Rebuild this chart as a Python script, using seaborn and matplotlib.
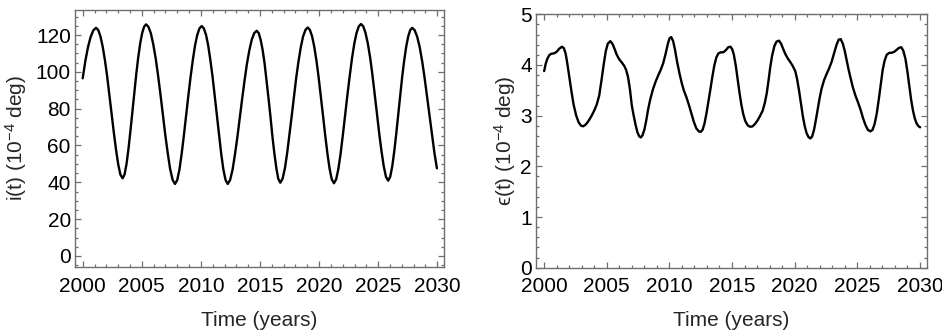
import numpy as np
import pandas as pd
import matplotlib
matplotlib.use("Agg")
import matplotlib.pyplot as plt
from matplotlib.ticker import MultipleLocator
import seaborn as sns

# ---------------- data ----------------
t_incl = [2000.00, 2000.23, 2000.455, 2000.68, 2000.905, 2001.13,
          2001.32, 2001.505, 2001.69, 2001.88, 2002.07, 2002.255, 2002.44, 2002.63, 2002.82, 2003.005, 2003.19, 2003.38,
          2003.545, 2003.71, 2003.875, 2004.04, 2004.205, 2004.37, 2004.535, 2004.70, 2004.865, 2005.03, 2005.195, 2005.36,
          2005.56, 2005.77, 2005.97, 2006.18, 2006.38, 2006.585, 2006.79, 2006.99, 2007.20, 2007.40, 2007.61, 2007.81,
          2008.00, 2008.19, 2008.375, 2008.56, 2008.75, 2008.94, 2009.13, 2009.32, 2009.505, 2009.69, 2009.88, 2010.07,
          2010.25, 2010.44, 2010.62, 2010.80, 2010.99, 2011.17, 2011.35, 2011.54, 2011.72, 2011.90, 2012.09, 2012.27,
          2012.47, 2012.68, 2012.88, 2013.09, 2013.29, 2013.495, 2013.70, 2013.90, 2014.11, 2014.31, 2014.52, 2014.72,
          2014.89, 2015.05, 2015.22, 2015.39, 2015.55, 2015.72, 2015.89, 2016.05, 2016.22, 2016.39, 2016.55, 2016.72,
          2016.91, 2017.11, 2017.30, 2017.49, 2017.69, 2017.88, 2018.07, 2018.27, 2018.46, 2018.65, 2018.85, 2019.04,
          2019.225, 2019.41, 2019.595, 2019.78, 2019.965, 2020.15, 2020.335, 2020.52, 2020.705, 2020.89, 2021.075, 2021.26,
          2021.45, 2021.64, 2021.83, 2022.02, 2022.21, 2022.405, 2022.60, 2022.79, 2022.98, 2023.17, 2023.36, 2023.55,
          2023.74, 2023.93, 2024.125, 2024.32, 2024.51, 2024.70, 2024.89, 2025.08, 2025.275, 2025.47, 2025.66, 2025.85,
          2026.02, 2026.19, 2026.36, 2026.53, 2026.70, 2026.865, 2027.03, 2027.20, 2027.37, 2027.54, 2027.71, 2027.88,
          2028.09, 2028.30, 2028.51, 2028.72, 2028.925, 2029.13, 2029.34, 2029.55, 2029.76, 2029.97]
incl = [96.5, 106.1, 113.6, 119.1, 122.6, 123.9,
        122.7, 119.2, 113.8, 106.4, 97.6, 87.8, 77.6, 67.3, 57.8, 49.8, 44.2, 42.2,
        44.3, 50.0, 58.2, 67.9, 78.4, 88.8, 98.9, 107.9, 115.4, 121.0, 124.5, 125.8,
        124.5, 120.9, 115.0, 107.2, 97.9, 87.5, 76.6, 65.7, 55.7, 47.2, 41.3, 39.1,
        41.2, 47.1, 55.5, 65.4, 76.3, 87.0, 97.3, 106.5, 114.3, 120.0, 123.6, 124.9,
        123.6, 120.0, 114.3, 106.5, 97.3, 87.0, 76.3, 65.4, 55.5, 47.1, 41.2, 39.1,
        41.2, 46.8, 55.0, 64.6, 75.1, 85.5, 95.5, 104.5, 112.0, 117.6, 121.1, 122.3,
        121.1, 117.6, 112.1, 104.6, 95.7, 85.8, 75.5, 65.1, 55.6, 47.5, 41.9, 39.8,
        41.9, 47.6, 55.9, 65.7, 76.3, 86.8, 97.0, 106.1, 113.6, 119.3, 122.8, 124.1,
        122.8, 119.3, 113.6, 106.0, 96.9, 86.7, 76.1, 65.5, 55.7, 47.4, 41.6, 39.5,
        41.7, 47.5, 56.0, 66.1, 77.0, 87.8, 98.1, 107.5, 115.3, 121.1, 124.7, 126.0,
        124.7, 121.1, 115.4, 107.8, 98.6, 88.4, 77.7, 67.0, 57.2, 48.8, 43.0, 40.9,
        43.0, 48.6, 56.8, 66.4, 76.8, 87.2, 97.2, 106.1, 113.6, 119.2, 122.7, 123.9,
        122.6, 119.1, 113.5, 105.9, 96.9, 86.8, 76.3, 65.8, 56.0, 47.6]

t_ecc = [2000.00, 2000.12, 2000.25, 2000.40, 2000.55, 2000.80, 2001.00, 2001.20, 2001.42, 2001.58,
         2001.72, 2001.85, 2002.00, 2002.18, 2002.35, 2002.55, 2002.75, 2002.95, 2003.12, 2003.30,
         2003.50, 2003.75, 2004.00, 2004.20, 2004.40, 2004.58, 2004.75, 2004.92, 2005.08, 2005.28,
         2005.45, 2005.62, 2005.80, 2006.00, 2006.20, 2006.40, 2006.55, 2006.70, 2006.85, 2007.00,
         2007.15, 2007.30, 2007.45, 2007.60, 2007.72, 2007.85, 2008.00, 2008.15, 2008.30, 2008.48,
         2008.70, 2008.90, 2009.10, 2009.30, 2009.50, 2009.70, 2009.88, 2010.02, 2010.15, 2010.30,
         2010.45, 2010.62, 2010.80, 2010.98, 2011.15, 2011.35, 2011.55, 2011.75, 2011.95, 2012.15,
         2012.35, 2012.50, 2012.65, 2012.80, 2012.95, 2013.10, 2013.25, 2013.42, 2013.58, 2013.75,
         2013.92, 2014.10, 2014.30, 2014.50, 2014.70, 2014.88, 2015.02, 2015.15, 2015.30, 2015.45,
         2015.60, 2015.75, 2015.90, 2016.05, 2016.25, 2016.45, 2016.65, 2016.85, 2017.05, 2017.25,
         2017.45, 2017.62, 2017.78, 2017.92, 2018.05, 2018.20, 2018.38, 2018.55, 2018.75, 2018.92,
         2019.08, 2019.25, 2019.45, 2019.65, 2019.85, 2020.05, 2020.20, 2020.35, 2020.50, 2020.65,
         2020.80, 2020.95, 2021.10, 2021.25, 2021.40, 2021.55, 2021.70, 2021.85, 2022.00, 2022.15,
         2022.35, 2022.55, 2022.75, 2022.95, 2023.15, 2023.35, 2023.52, 2023.68, 2023.85, 2024.00,
         2024.15, 2024.30, 2024.45, 2024.65, 2024.85, 2025.05, 2025.25, 2025.45, 2025.65, 2025.85,
         2026.05, 2026.22, 2026.38, 2026.55, 2026.72, 2026.88, 2027.03, 2027.18, 2027.35, 2027.55,
         2027.75, 2027.95, 2028.15, 2028.35, 2028.52, 2028.68, 2028.85, 2029.00, 2029.15, 2029.30,
         2029.45, 2029.60, 2029.75, 2029.90, 2030.02]
ecc = [3.88, 4.02, 4.12, 4.19, 4.22, 4.23, 4.26, 4.32, 4.36, 4.33,
       4.22, 4.03, 3.78, 3.48, 3.22, 3.01, 2.87, 2.80, 2.79, 2.82,
       2.88, 2.98, 3.10, 3.22, 3.40, 3.70, 4.00, 4.27, 4.42, 4.47,
       4.42, 4.32, 4.20, 4.11, 4.05, 3.98, 3.90, 3.76, 3.52, 3.20,
       3.00, 2.82, 2.67, 2.59, 2.57, 2.61, 2.72, 2.90, 3.12, 3.33,
       3.53, 3.67, 3.79, 3.90, 4.03, 4.22, 4.42, 4.53, 4.55, 4.47,
       4.30, 4.06, 3.84, 3.65, 3.50, 3.37, 3.22, 3.05, 2.88, 2.75,
       2.69, 2.68, 2.72, 2.84, 3.03, 3.25, 3.48, 3.75, 3.98, 4.15,
       4.23, 4.25, 4.25, 4.29, 4.35, 4.36, 4.31, 4.20, 3.99, 3.72,
       3.45, 3.21, 3.03, 2.90, 2.81, 2.78, 2.79, 2.84, 2.91, 3.00,
       3.10, 3.25, 3.45, 3.70, 3.95, 4.18, 4.37, 4.46, 4.48, 4.42,
       4.32, 4.22, 4.13, 4.06, 3.98, 3.88, 3.72, 3.50, 3.25, 3.00,
       2.80, 2.66, 2.58, 2.55, 2.59, 2.72, 2.92, 3.14, 3.35, 3.53,
       3.70, 3.82, 3.93, 4.06, 4.23, 4.40, 4.50, 4.51, 4.42, 4.28,
       4.10, 3.92, 3.76, 3.56, 3.40, 3.27, 3.13, 2.96, 2.82, 2.72,
       2.69, 2.72, 2.83, 3.03, 3.32, 3.62, 3.90, 4.08, 4.20, 4.24,
       4.24, 4.26, 4.30, 4.34, 4.35, 4.28, 4.12, 3.88, 3.60, 3.32,
       3.10, 2.94, 2.84, 2.79, 2.77]

x_ticks = [2000, 2005, 2010, 2015, 2020, 2025, 2030]
incl_ticks = [0, 20, 40, 60, 80, 100, 120]
ecc_ticks = [0, 1, 2, 3, 4, 5]
x_label = "Time (years)"
incl_label = "i(t) (10$^{-4}$ deg)"
ecc_label = "ϵ(t) (10$^{-4}$ deg)"

# ---------------- style ----------------
sns.set_style("ticks")
plt.rcParams['font.family'] = ['Liberation Sans', 'DejaVu Sans']
plt.rcParams['mathtext.fontset'] = 'custom'
plt.rcParams['mathtext.rm'] = 'Liberation Sans'
plt.rcParams['mathtext.it'] = 'Liberation Sans:italic'
plt.rcParams['mathtext.default'] = 'regular'

frame_col = '#6e6e6e'
fs = 15

fig = plt.figure(figsize=(9.42, 3.31), dpi=100)
ax1 = fig.add_axes([75/942, 1 - 267/331, 369/942, 257/331])
ax2 = fig.add_axes([536/942, 1 - 267.7/331, 391/942, 253.4/331])

df1 = pd.DataFrame({"t": t_incl, "v": incl})
df2 = pd.DataFrame({"t": t_ecc, "v": ecc})
sns.lineplot(data=df1, x="t", y="v", ax=ax1, color="black", linewidth=1.7, sort=False)
sns.lineplot(data=df2, x="t", y="v", ax=ax2, color="black", linewidth=1.7, sort=False)

def style(ax, yticks, ylim, yminor, ylabel, ylab_x):
    ax.set_xlim(1999.35, 2030.57)
    ax.set_ylim(*ylim)
    ax.set_xticks(x_ticks)
    ax.set_xticklabels([str(v) for v in x_ticks])
    ax.set_yticks(yticks)
    ax.set_yticklabels([str(v) for v in yticks])
    ax.xaxis.set_minor_locator(MultipleLocator(1))
    ax.yaxis.set_minor_locator(MultipleLocator(yminor))
    for s in ax.spines.values():
        s.set_visible(True)
        s.set_color(frame_col)
        s.set_linewidth(1.0)
    ax.tick_params(which='both', direction='in', top=True, right=True,
                   color=frame_col, width=0.9, labelsize=fs, labelcolor='black')
    ax.tick_params(which='major', length=4.5)
    ax.tick_params(which='minor', length=2.3)
    ax.tick_params(axis='x', which='major', pad=7)
    ax.tick_params(axis='y', which='major', pad=3)
    ax.set_xlabel(x_label, fontsize=fs)
    ax.set_ylabel(ylabel, fontsize=fs)
    ax.xaxis.set_label_coords(0.5, -0.17)
    ax.yaxis.set_label_coords(ylab_x, 0.5)
    ax.grid(False)

style(ax1, incl_ticks, (-6.0, 133.6), 5, incl_label, -0.125)
style(ax2, ecc_ticks, (0, 5), 0.2, ecc_label, -0.045)

fig.savefig("out.png", dpi=100)
